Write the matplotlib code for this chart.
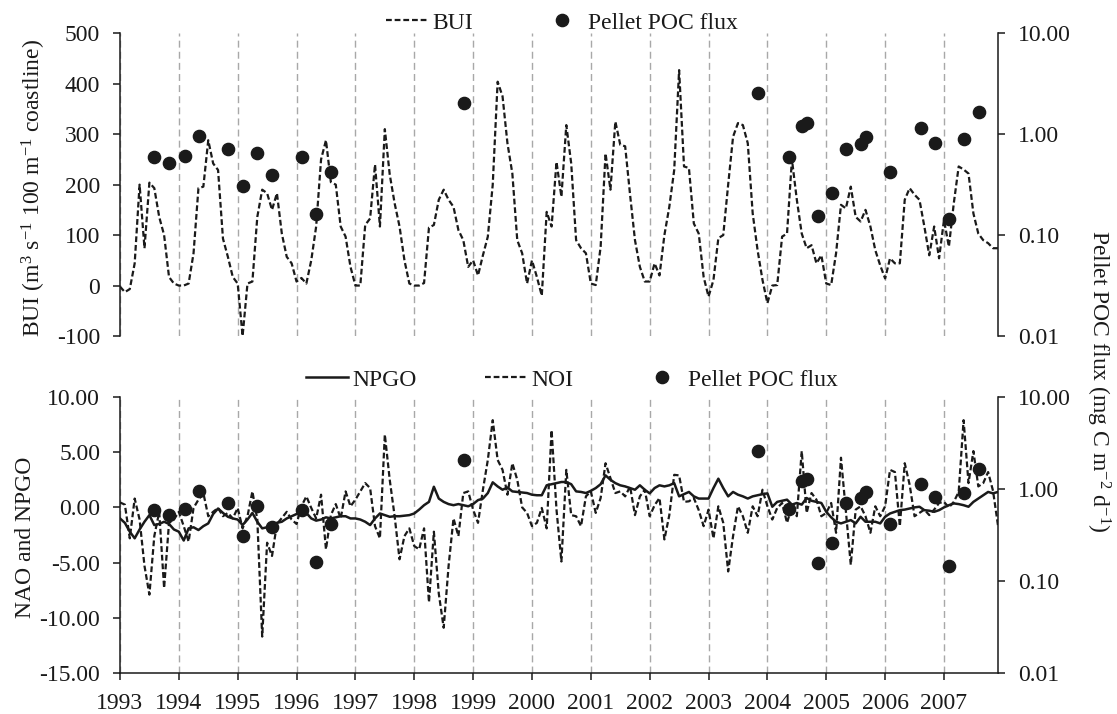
import numpy as np
import matplotlib
matplotlib.use("Agg")
import matplotlib.pyplot as plt
from matplotlib.lines import Line2D
from matplotlib.ticker import FixedLocator, FuncFormatter, NullLocator

plt.rcParams["font.family"] = ["Liberation Serif", "DejaVu Serif"]
plt.rcParams["mathtext.fontset"] = "custom"
plt.rcParams["mathtext.rm"] = "Liberation Serif"
plt.rcParams["mathtext.it"] = "Liberation Serif:italic"
plt.rcParams["axes.unicode_minus"] = False

# ── Data (monthly, Jan 1993 - Dec 2007) ───────────────────────────────────────

YEARS = list(range(1993, 2008))

BUI = [
    -2, -13, -7, 44, 200, 74, 204, 193, 136, 100, 17, 4,          # 1993
    0, 0, 4, 64, 193, 196, 288, 242, 229, 93, 57, 17,             # 1994
    4, -100, 4, 8, 136, 190, 183, 150, 183, 103, 57, 44,          # 1995
    8, 15, 4, 50, 117, 250, 288, 205, 200, 117, 97, 37,           # 1996
    0, 0, 120, 133, 240, 117, 310, 220, 163, 117, 50, 4,          # 1997
    0, 0, 5, 115, 120, 170, 190, 170, 156, 110, 90, 37,           # 1998
    50, 20, 60, 97, 200, 404, 375, 282, 222, 90, 64, 4,           # 1999
    50, 17, -20, 146, 117, 245, 176, 318, 242, 90, 74, 64,        # 2000
    4, 1, 77, 262, 190, 325, 279, 276, 180, 90, 37, 8,            # 2001
    8, 44, 20, 100, 156, 229, 427, 236, 233, 123, 103, 17,        # 2002
    -22, 11, 94, 100, 200, 295, 322, 318, 282, 143, 70, 11,       # 2003
    -35, 0, 1, 97, 103, 250, 170, 103, 74, 80, 44, 60,            # 2004
    4, 1, 64, 160, 153, 196, 136, 127, 150, 117, 70, 40,          # 2005
    14, 54, 44, 44, 170, 193, 180, 170, 117, 60, 117, 54,         # 2006
    130, 77, 163, 236, 230, 222, 143, 103, 90, 84, 74, 74,        # 2007
]

NPGO = [
    -1.0, -1.4, -2.2, -2.8, -2.0, -1.3, -0.7, -1.6, -1.5, -1.3, -1.5, -2.0,
    -2.2, -3.0, -1.9, -1.8, -2.05, -1.7, -1.45, -0.6, -0.1, -0.5, -0.85, -1.0,
    -1.1, -1.6, -1.1, -0.5, -1.3, -1.9, -1.8, -1.6, -1.4, -1.3, -1.0, -0.8,
    -0.6, -0.4, -0.5, -1.0, -1.2, -1.1, -0.9, -1.0, -0.9, -0.8, -0.8, -1.0,
    -1.0, -1.1, -1.3, -1.6, -1.0, -0.55, -0.7, -0.85, -0.8, -0.8, -0.75, -0.7,
    -0.55, -0.2, 0.2, 0.5, 1.87, 0.8, 0.5, 0.3, 0.2, 0.3, 0.2, 0.1,
    0.3, 0.66, 0.8, 1.3, 2.27, 1.9, 1.6, 1.8, 1.45, 1.4, 1.35, 1.3,
    1.15, 1.1, 1.1, 2.0, 2.1, 2.2, 2.3, 2.3, 2.1, 1.45, 1.4, 1.3,
    1.5, 1.75, 2.1, 2.9, 2.5, 2.2, 2.0, 1.9, 1.75, 1.6, 2.0, 1.6,
    1.27, 1.75, 2.0, 1.9, 2.0, 2.2, 1.0, 1.2, 1.4, 1.0, 0.8, 0.8,
    0.8, 1.75, 2.6, 1.75, 1.0, 1.4, 1.15, 1.0, 0.8, 1.0, 1.1, 1.2,
    1.27, 0.06, 0.5, 0.6, 0.7, 0.25, 0.4, 0.25, 0.85, 0.6, 0.5, 0.4,
    -0.4, -0.9, -1.3, -1.45, -1.3, -1.15, -1.45, -0.85, -1.3, -1.3, -1.3, -1.45,
    -0.85, -0.55, -0.4, -0.25, -0.2, -0.1, 0.0, 0.06, -0.25, -0.3, -0.4, -0.25,
    0.0, 0.2, 0.36, 0.3, 0.2, 0.06, 0.5, 0.8, 1.1, 1.4, 1.27, 1.4,
]

NOI = [
    0.45, 0.25, -2.8, 0.8, -1.1, -5.3, -7.9, -2.6, -0.4, -7.3, -1.4, -1.1,
    -0.4, -1.7, -3.1, -0.05, 0.7, 1.3, -0.8, -0.4, -0.05, -0.8, -0.5, -1.0,
    -0.05, -1.9, -0.8, 1.45, -1.1, -11.7, -3.2, -4.4, -1.5, -0.96, -0.4, -1.1,
    -1.5, 0.1, 1.0, -0.05, -1.0, 1.15, -3.8, -0.7, 0.3, -1.0, 1.45, 0.1,
    0.7, 1.45, 2.2, 1.75, -1.7, -2.8, 6.6, 2.5, -0.8, -4.7, -2.6, -1.9,
    -3.5, -3.8, -1.9, -8.6, -2.2, -7.8, -10.9, -5.3, -1.0, -2.6, 1.3, 1.45,
    -0.2, -1.4, 1.6, 4.3, 7.9, 4.3, 3.4, 1.15, 4.0, 2.5, 0.0, -0.5,
    -1.7, -1.4, -0.05, -1.9, 7.0, -0.2, -4.9, 3.4, -0.7, -0.8, -1.7, 1.0,
    1.45, -0.5, 0.85, 4.0, 2.65, 1.3, 1.45, 1.0, 1.9, -0.7, 1.0, 1.6,
    -0.8, 0.2, 0.85, -2.9, -0.7, 2.95, 2.9, 0.5, 0.55, 0.85, -0.25, -1.7,
    -0.2, -2.8, 0.1, -1.4, -5.8, -2.6, 0.1, -0.8, -2.3, 0.1, -0.8, 1.6,
    0.1, -1.1, -0.05, 0.4, -1.4, 0.1, -0.8, 5.1, -0.5, 1.3, 0.7, -0.8,
    -0.5, 0.4, -2.3, 4.5, -0.4, -5.2, -0.2, 0.1, -0.8, -2.3, 0.1, -0.8,
    0.1, 3.4, 3.2, -1.7, 4.0, 2.05, -0.8, -0.5, -0.2, -0.7, -0.2, 0.4,
    0.5, 0.0, 0.5, 1.4, 7.9, 2.2, 5.1, 1.9, 2.2, 3.2, 1.5, -1.6,
]

PELLET_DATE = [1993.58, 1993.84, 1994.10, 1994.34, 1994.83, 1995.09, 1995.33,
               1995.58, 1996.09, 1996.33, 1996.59, 1998.84, 2003.84, 2004.36,
               2004.59, 2004.68, 2004.86, 2005.09, 2005.34, 2005.59, 2005.68,
               2006.09, 2006.61, 2006.84, 2007.09, 2007.34, 2007.59]
PELLET_FLUX = [0.59, 0.52, 0.61, 0.96, 0.71, 0.31, 0.65,
               0.39, 0.59, 0.16, 0.42, 2.06, 2.58, 0.60,
               1.21, 1.28, 0.155, 0.26, 0.71, 0.80, 0.93,
               0.42, 1.14, 0.82, 0.146, 0.90, 1.66]

FLUX_TICKS = [0.01, 0.1, 1, 10]

# ── Style ──────────────────────────────────────────────────────────────────────

INK = "#1a1a1a"
GRID = "#a8a8a8"
FS = 17
DASH = (0, (2.6, 1.3))

x_month = np.array([y + m / 12 for y in YEARS for m in range(12)])


def style_left(ax, show_bottom):
    ax.set_xlim(YEARS[0], x_month[-1])
    ax.set_xticks(YEARS)
    ax.grid(axis="x", color=GRID, lw=1.0, ls=(0, (5, 3)))
    ax.set_axisbelow(True)
    for s in ("top", "right"):
        ax.spines[s].set_visible(False)
    for s in ("left", "bottom"):
        ax.spines[s].set_color(INK)
        ax.spines[s].set_linewidth(1.1)
    ax.tick_params(axis="y", direction="out", length=5.3, width=1.1,
                   colors=INK, labelsize=FS, pad=9)
    ax.tick_params(axis="x", direction="out", length=5.3, width=1.1,
                   colors=INK, labelsize=FS, pad=9)
    if not show_bottom:
        ax.spines["bottom"].set_visible(False)
        ax.tick_params(axis="x", bottom=False, labelbottom=False)


def flux_axis(ax):
    axr = ax.twinx()
    axr.set_yscale("log")
    axr.set_ylim(FLUX_TICKS[0], FLUX_TICKS[-1])
    axr.yaxis.set_major_locator(FixedLocator(FLUX_TICKS))
    axr.yaxis.set_minor_locator(NullLocator())
    axr.yaxis.set_major_formatter(FuncFormatter(lambda v, p: f"{v:.2f}"))
    for s in ("top", "left", "bottom"):
        axr.spines[s].set_visible(False)
    axr.spines["right"].set_color(INK)
    axr.spines["right"].set_linewidth(1.1)
    axr.tick_params(axis="y", direction="out", length=5.3, width=1.1,
                    colors=INK, labelsize=FS, pad=9)
    axr.plot(PELLET_DATE, PELLET_FLUX, "o", ms=8.8, color=INK, ls="none")
    return axr


fig = plt.figure(figsize=(11.17, 7.14), dpi=100)
ax1 = fig.add_axes([0.1074, 0.5294, 0.7860, 0.4240])
ax2 = fig.add_axes([0.1074, 0.0574, 0.7860, 0.3866])

# Top panel: BUI
style_left(ax1, show_bottom=False)
ax1.plot(x_month, BUI, color=INK, lw=1.6, ls=DASH)
ax1.set_ylim(-100, 500)
ax1.set_yticks(range(-100, 501, 100))
ax1.set_ylabel("BUI (m$^{3}$ s$^{-1}$ 100 m$^{-1}$ coastline)", fontsize=FS,
               color=INK, va="center")
ax1.yaxis.set_label_coords(-0.098, 0.49)
ax1r = flux_axis(ax1)

# Bottom panel: NPGO / NOI
style_left(ax2, show_bottom=True)
ax2.plot(x_month, NPGO, color=INK, lw=1.8)
ax2.plot(x_month, NOI, color=INK, lw=1.6, ls=DASH)
ax2.set_ylim(-15, 10)
ax2.set_yticks(range(-15, 11, 5))
ax2.yaxis.set_major_formatter(FuncFormatter(lambda v, p: f"{v:.2f}"))
ax2.set_ylabel("NAO and NPGO", fontsize=FS, color=INK, va="center")
ax2.yaxis.set_label_coords(-0.108, 0.49)
ax2r = flux_axis(ax2)

fig.text(0.983, 0.466, "Pellet POC flux (mg C m$^{-2}$ d$^{-1}$)", rotation=-90,
         ha="center", va="center", fontsize=FS, color=INK)

# Legends
h_bui = Line2D([], [], color=INK, lw=1.6, ls=DASH)
h_npgo = Line2D([], [], color=INK, lw=1.8)
h_noi = Line2D([], [], color=INK, lw=1.6, ls=DASH)
h_dot = Line2D([], [], color=INK, marker="o", ms=8.8, ls="none")

leg_kw = dict(loc="center", bbox_transform=fig.transFigure, frameon=False,
              fontsize=FS, handlelength=1.75, handletextpad=0.2,
              columnspacing=2.9, borderpad=0, borderaxespad=0)
for t in [ax1r.legend([h_bui, h_dot], ["BUI", "Pellet POC flux"], ncol=2,
                      bbox_to_anchor=(0.503, 0.968), **leg_kw),
          ax2r.legend([h_npgo, h_noi, h_dot], ["NPGO", "NOI", "Pellet POC flux"],
                      ncol=3, bbox_to_anchor=(0.512, 0.468), **leg_kw)]:
    for txt in t.get_texts():
        txt.set_color(INK)

fig.savefig("out.png", dpi=100)
